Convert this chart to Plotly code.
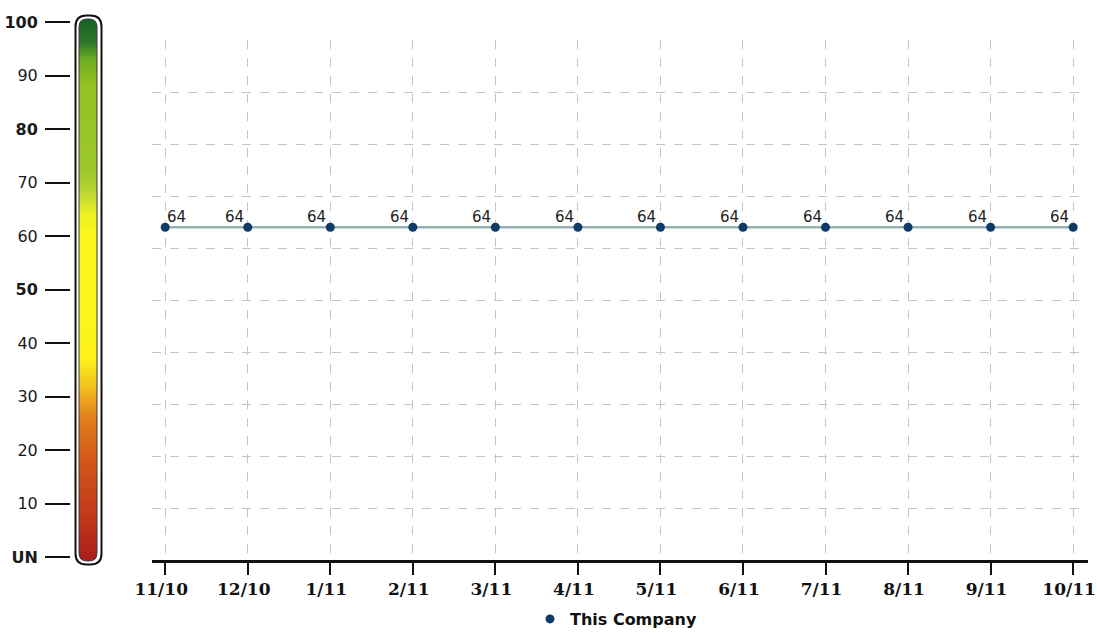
import numpy as np
import plotly.graph_objects as go

# Monthly scores for the company
months = ["11/10", "12/10", "1/11", "2/11", "3/11", "4/11",
          "5/11", "6/11", "7/11", "8/11", "9/11", "10/11"]
scores = [64, 64, 64, 64, 64, 64, 64, 64, 64, 64, 64, 64]
series_name = "This Company"

# Rating scale shown on the gradient bar
scale_vals = [0, 10, 20, 30, 40, 50, 60, 70, 80, 90, 100]
scale_text = ["<b>UN</b>", "10", "20", "30", "40", "<b>50</b>",
              "60", "70", "<b>80</b>", "90", "<b>100</b>"]

# Gradient colour stops (scale value, colour), red at the bottom to green at top
grad_stops = [(-1, "#a81c1c"), (8, "#c23a1a"), (18, "#d4561a"), (26, "#e27f1e"),
              (32, "#f2c21e"), (37, "#fcf21a"), (60, "#fdf81c"), (64, "#eef024"),
              (68, "#bcd832"), (72, "#9cc82a"), (88, "#94c222"), (93, "#6fae22"),
              (96, "#2f7a2a"), (101, "#125e28")]

W, H = 1097, 634
PX_PER_UNIT = 5.35           # gradient bar: pixels per scale unit
Y100_PX = 22                 # pixel row of the 100 mark


def px_to_scale(py):
    return 100 - (py - Y100_PX) / PX_PER_UNIT


fig = go.Figure()

# connecting line
fig.add_trace(go.Scatter(
    x=months, y=scores, mode="lines",
    line=dict(color="#95b0ae", width=2.5),
    showlegend=False, hoverinfo="skip", xaxis="x", yaxis="y"))

# points
fig.add_trace(go.Scatter(
    x=months, y=scores, mode="markers", name=series_name,
    marker=dict(color="#0d3a66", size=9),
    xaxis="x", yaxis="y"))

# value labels sitting just above each point
annotations = []
for i, (m, v) in enumerate(zip(months, scores)):
    first = i == 0
    annotations.append(dict(
        x=m, y=v, xref="x", yref="y", text=str(v), showarrow=False,
        xanchor="left" if first else "right", yanchor="bottom",
        xshift=0 if first else -2, yshift=-1,
        font=dict(family="DejaVu Sans", size=15, color="#1e1e1e")))

# gradient bar built as a thin heatmap column
lo, hi = grad_stops[0][0], grad_stops[-1][0]
colorscale = [[(v - lo) / (hi - lo), c] for v, c in grad_stops]
gx0, gx1 = 79, 97
g_top, g_bot = px_to_scale(19), px_to_scale(561)
edges = np.linspace(g_bot, g_top, 321)
mids = (edges[:-1] + edges[1:]) / 2
fig.add_trace(go.Heatmap(
    x=[gx0, gx1], y=edges, z=[[m] for m in mids],
    colorscale=colorscale, zmin=lo, zmax=hi, showscale=False,
    hoverinfo="skip", xaxis="x2", yaxis="y2"))


def rounded_rect(x0, x1, yt, yb, rx, ry):
    return (f"M {x0+rx},{yt} L {x1-rx},{yt} Q {x1},{yt} {x1},{yt-ry} "
            f"L {x1},{yb+ry} Q {x1},{yb} {x1-rx},{yb} "
            f"L {x0+rx},{yb} Q {x0},{yb} {x0},{yb+ry} "
            f"L {x0},{yt-ry} Q {x0},{yt} {x0+rx},{yt} Z")


shapes = []
# white masks to round the gradient corners
rx_in = 8
ry_in = rx_in / PX_PER_UNIT
corners = [
    f"M {gx0},{g_top} L {gx0+rx_in},{g_top} Q {gx0},{g_top} {gx0},{g_top-ry_in} Z",
    f"M {gx1},{g_top} L {gx1-rx_in},{g_top} Q {gx1},{g_top} {gx1},{g_top-ry_in} Z",
    f"M {gx0},{g_bot} L {gx0+rx_in},{g_bot} Q {gx0},{g_bot} {gx0},{g_bot+ry_in} Z",
    f"M {gx1},{g_bot} L {gx1-rx_in},{g_bot} Q {gx1},{g_bot} {gx1},{g_bot+ry_in} Z",
]
for p in corners:
    shapes.append(dict(type="path", path=p, xref="x2", yref="y2",
                       fillcolor="white", line=dict(width=0), layer="above"))
# thin outline around the gradient
shapes.append(dict(type="path", xref="x2", yref="y2", layer="above",
                   path=rounded_rect(gx0, gx1, g_top, g_bot, rx_in, ry_in),
                   line=dict(color="#3a3a3a", width=1)))
# outer frame
ox0, ox1 = 75.5, 101.5
o_top, o_bot = px_to_scale(15.5), px_to_scale(564.5)
rx_out = 11
shapes.append(dict(type="path", xref="x2", yref="y2", layer="above",
                   path=rounded_rect(ox0, ox1, o_top, o_bot, rx_out, rx_out / PX_PER_UNIT),
                   line=dict(color="#111111", width=2)))

grid = dict(showgrid=True, gridcolor="#c4c4c4", gridwidth=1, griddash="dash")

fig.update_layout(
    width=W, height=H,
    margin=dict(l=0, r=0, t=0, b=0, autoexpand=False),
    paper_bgcolor="white", plot_bgcolor="white",
    shapes=shapes, annotations=annotations,
    xaxis=dict(
        domain=[152 / W, 1088 / W], type="category", range=[-0.16, 11.18],
        anchor="y", automargin=False, showline=True, linecolor="#111111", linewidth=2.5,
        ticks="outside", ticklen=12, tickwidth=2, tickcolor="#111111",
        tickfont=dict(family="DejaVu Serif", size=17, color="#111111", weight="bold"),
        ticklabelstandoff=0, ticklabelshift=-4, zeroline=False, **grid),
    yaxis=dict(
        domain=[(H - 560) / H, (H - 40) / H], range=[0, 100],
        tickvals=list(range(10, 100, 10)), showticklabels=False, ticks="",
        automargin=False, showline=False, zeroline=False, anchor="x", **grid),
    xaxis2=dict(domain=[0, 120 / W], range=[0, 120], visible=False,
                anchor="y2", fixedrange=True, automargin=False),
    yaxis2=dict(
        domain=[0, 1], range=[px_to_scale(H), px_to_scale(0)],
        anchor="free", position=70 / W, side="left", automargin=False,
        tickvals=scale_vals, ticktext=scale_text,
        ticks="outside", ticklen=25, tickwidth=2, tickcolor="#111111",
        tickfont=dict(family="DejaVu Sans", size=16, color="#1a1a1a"),
        ticklabelstandoff=4, showgrid=False, zeroline=False, showline=False),
    legend=dict(
        orientation="h", x=616 / W, xanchor="center", y=(H - 619) / H,
        yanchor="middle", font=dict(family="DejaVu Sans", size=16,
                                    color="#111111", weight="bold"),
        bgcolor="rgba(0,0,0,0)"),
    showlegend=True,
)

fig.write_html("out.html")
